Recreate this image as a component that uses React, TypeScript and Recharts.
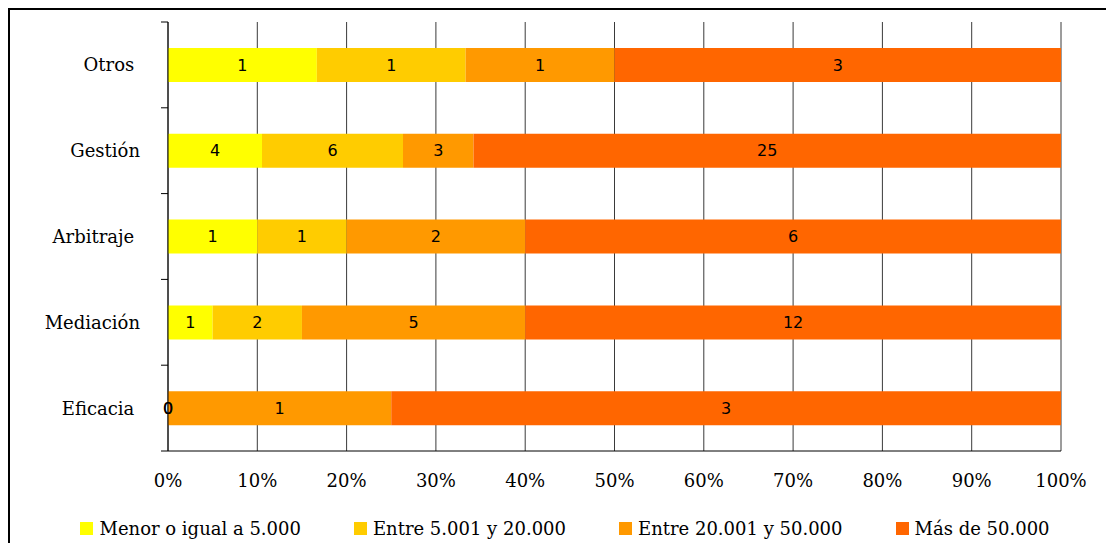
import { BarChart, Bar, XAxis, YAxis, CartesianGrid, LabelList, Legend } from "recharts";

const categories = ["Otros ", "Gestión", "Arbitraje ", "Mediación", "Eficacia "];
const menor = [1, 4, 1, 1, 0];
const entre5 = [1, 6, 1, 2, 0];
const entre20 = [1, 3, 2, 5, 1];
const mas50 = [3, 25, 6, 12, 3];
const xTicks = [0, 0.1, 0.2, 0.3, 0.4, 0.5, 0.6, 0.7, 0.8, 0.9, 1];

const series = [
  { key: "menor", name: "Menor o igual a 5.000", color: "#FFFF00" },
  { key: "entre5", name: "Entre 5.001 y 20.000", color: "#FFCC00" },
  { key: "entre20", name: "Entre 20.001 y 50.000", color: "#FF9900" },
  { key: "mas50", name: "Más de 50.000", color: "#FF6600" },
];

const data = categories.map((name, i) => ({
  name,
  menor: menor[i],
  entre5: entre5[i],
  entre20: entre20[i],
  mas50: mas50[i],
}));

const FONT = "'DejaVu Serif', serif";

function CategoryTick(props: any) {
  const { x, y, payload, index } = props;
  const half = payload?.offset || 42.9;
  const last = index === categories.length - 1;
  return (
    <g>
      <text
        x={x - 28}
        y={y}
        textAnchor="end"
        dominantBaseline="central"
        fontFamily={FONT}
        fontSize={18}
        fill="#000"
        style={{ whiteSpace: "pre" }}
      >
        {payload.value}
      </text>
      <line x1={x - 7} x2={x} y1={y - half} y2={y - half} stroke="#000" strokeWidth={1} />
      {last && <line x1={x - 7} x2={x} y1={y + half} y2={y + half} stroke="#000" strokeWidth={1} />}
    </g>
  );
}

function ValueLabel(props: any) {
  const { x, y, width, height, value } = props;
  if (value === null || value === undefined) return null;
  return (
    <text
      x={x + width / 2}
      y={y + height / 2}
      textAnchor="middle"
      dominantBaseline="central"
      fontFamily="'DejaVu Sans', sans-serif"
      fontSize={16}
      fill="#000"
    >
      {value}
    </text>
  );
}

function LegendBox() {
  return (
    <div
      style={{
        display: "flex",
        justifyContent: "center",
        alignItems: "center",
        gap: 53,
        height: 40,
        paddingLeft: 59,
      }}
    >
      {series.map((s) => (
        <div key={s.key} style={{ display: "flex", alignItems: "center" }}>
          <span style={{ width: 13, height: 13, background: s.color, display: "inline-block", marginRight: 6 }} />
          <span style={{ fontFamily: FONT, fontSize: 18, color: "#000" }}>{s.name}</span>
        </div>
      ))}
    </div>
  );
}

export default function App() {
  return (
    <div style={{ width: 1106, height: 535, overflow: "hidden" }}>
      <div style={{ width: 1110, height: 560, border: "2px solid #000", background: "#fff" }}>
        <BarChart
          width={1110}
          height={545}
          data={data}
          layout="vertical"
          stackOffset="expand"
          barSize={34}
          margin={{ top: 12, right: 59, left: 0, bottom: 7 }}
        >
          <CartesianGrid horizontal={false} vertical stroke="#3a3a3a" strokeWidth={1} />
          <XAxis
            type="number"
            domain={[0, 1]}
            ticks={xTicks}
            tickFormatter={(v: number) => `${Math.round(v * 100)}%`}
            tickLine={false}
            tickMargin={17}
            height={57}
            axisLine={{ stroke: "#000" }}
            tick={{ fontFamily: FONT, fontSize: 18, fill: "#000" }}
          />
          <YAxis
            type="category"
            dataKey="name"
            width={158}
            tickLine={false}
            tickSize={0}
            tickMargin={0}
            axisLine={{ stroke: "#000" }}
            tick={<CategoryTick />}
          />
          <Legend verticalAlign="bottom" height={40} content={<LegendBox />} />
          {series.map((s) => (
            <Bar
              key={s.key}
              dataKey={s.key}
              name={s.name}
              stackId="a"
              fill={s.color}
              minPointSize={0.01}
              isAnimationActive={false}
            >
              <LabelList dataKey={s.key} position="center" content={<ValueLabel />} />
            </Bar>
          ))}
        </BarChart>
      </div>
    </div>
  );
}
